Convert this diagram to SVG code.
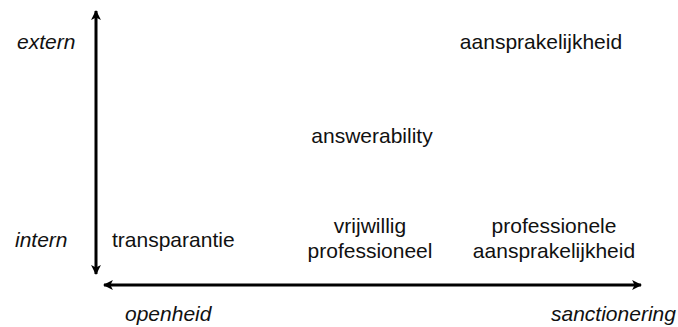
<svg xmlns="http://www.w3.org/2000/svg" width="678" height="327" viewBox="0 0 678 327">
  <style>
    text { font-family: "Liberation Sans", Arial, sans-serif; font-size: 21px; fill: #111; }
    .axis-label { font-style: italic; }
    .axis { stroke: #000; stroke-width: 3; fill: none; }
  </style>
  <defs>
    <marker id="head" viewBox="0 0 10 10" refX="9" refY="5" markerWidth="3.3" markerHeight="3.3" orient="auto-start-reverse" markerUnits="strokeWidth">
      <path d="M0,0 L10,5 L0,10 L2.5,5 Z" fill="#000"/>
    </marker>
  </defs>
  <rect width="678" height="327" fill="#fff"/>

  <!-- axes -->
  <g id="connectors">
    <line class="axis" x1="96" y1="274" x2="96" y2="11" marker-start="url(#head)" marker-end="url(#head)"/>
    <line class="axis" x1="104" y1="285" x2="641" y2="285" marker-start="url(#head)" marker-end="url(#head)"/>
  </g>

  <!-- axis labels -->
  <g id="axis-labels">
    <text class="axis-label" x="17" y="49">extern</text>
    <text class="axis-label" x="15" y="247">intern</text>
    <text class="axis-label" x="125" y="321">openheid</text>
    <text class="axis-label" x="551" y="321">sanctionering</text>
  </g>

  <g id="node-aansprakelijkheid">
    <text x="541" y="49" text-anchor="middle">aansprakelijkheid</text>
  </g>
  <g id="node-answerability">
    <text x="372" y="143" text-anchor="middle">answerability</text>
  </g>
  <g id="node-transparantie">
    <text x="112" y="247" text-anchor="start">transparantie</text>
  </g>
  <g id="node-vrijwillig-professioneel">
    <text x="370" y="233" text-anchor="middle">vrijwillig</text>
    <text x="370" y="258" text-anchor="middle">professioneel</text>
  </g>
  <g id="node-professionele-aansprakelijkheid">
    <text x="554" y="233" text-anchor="middle">professionele</text>
    <text x="554" y="258" text-anchor="middle">aansprakelijkheid</text>
  </g>
</svg>
